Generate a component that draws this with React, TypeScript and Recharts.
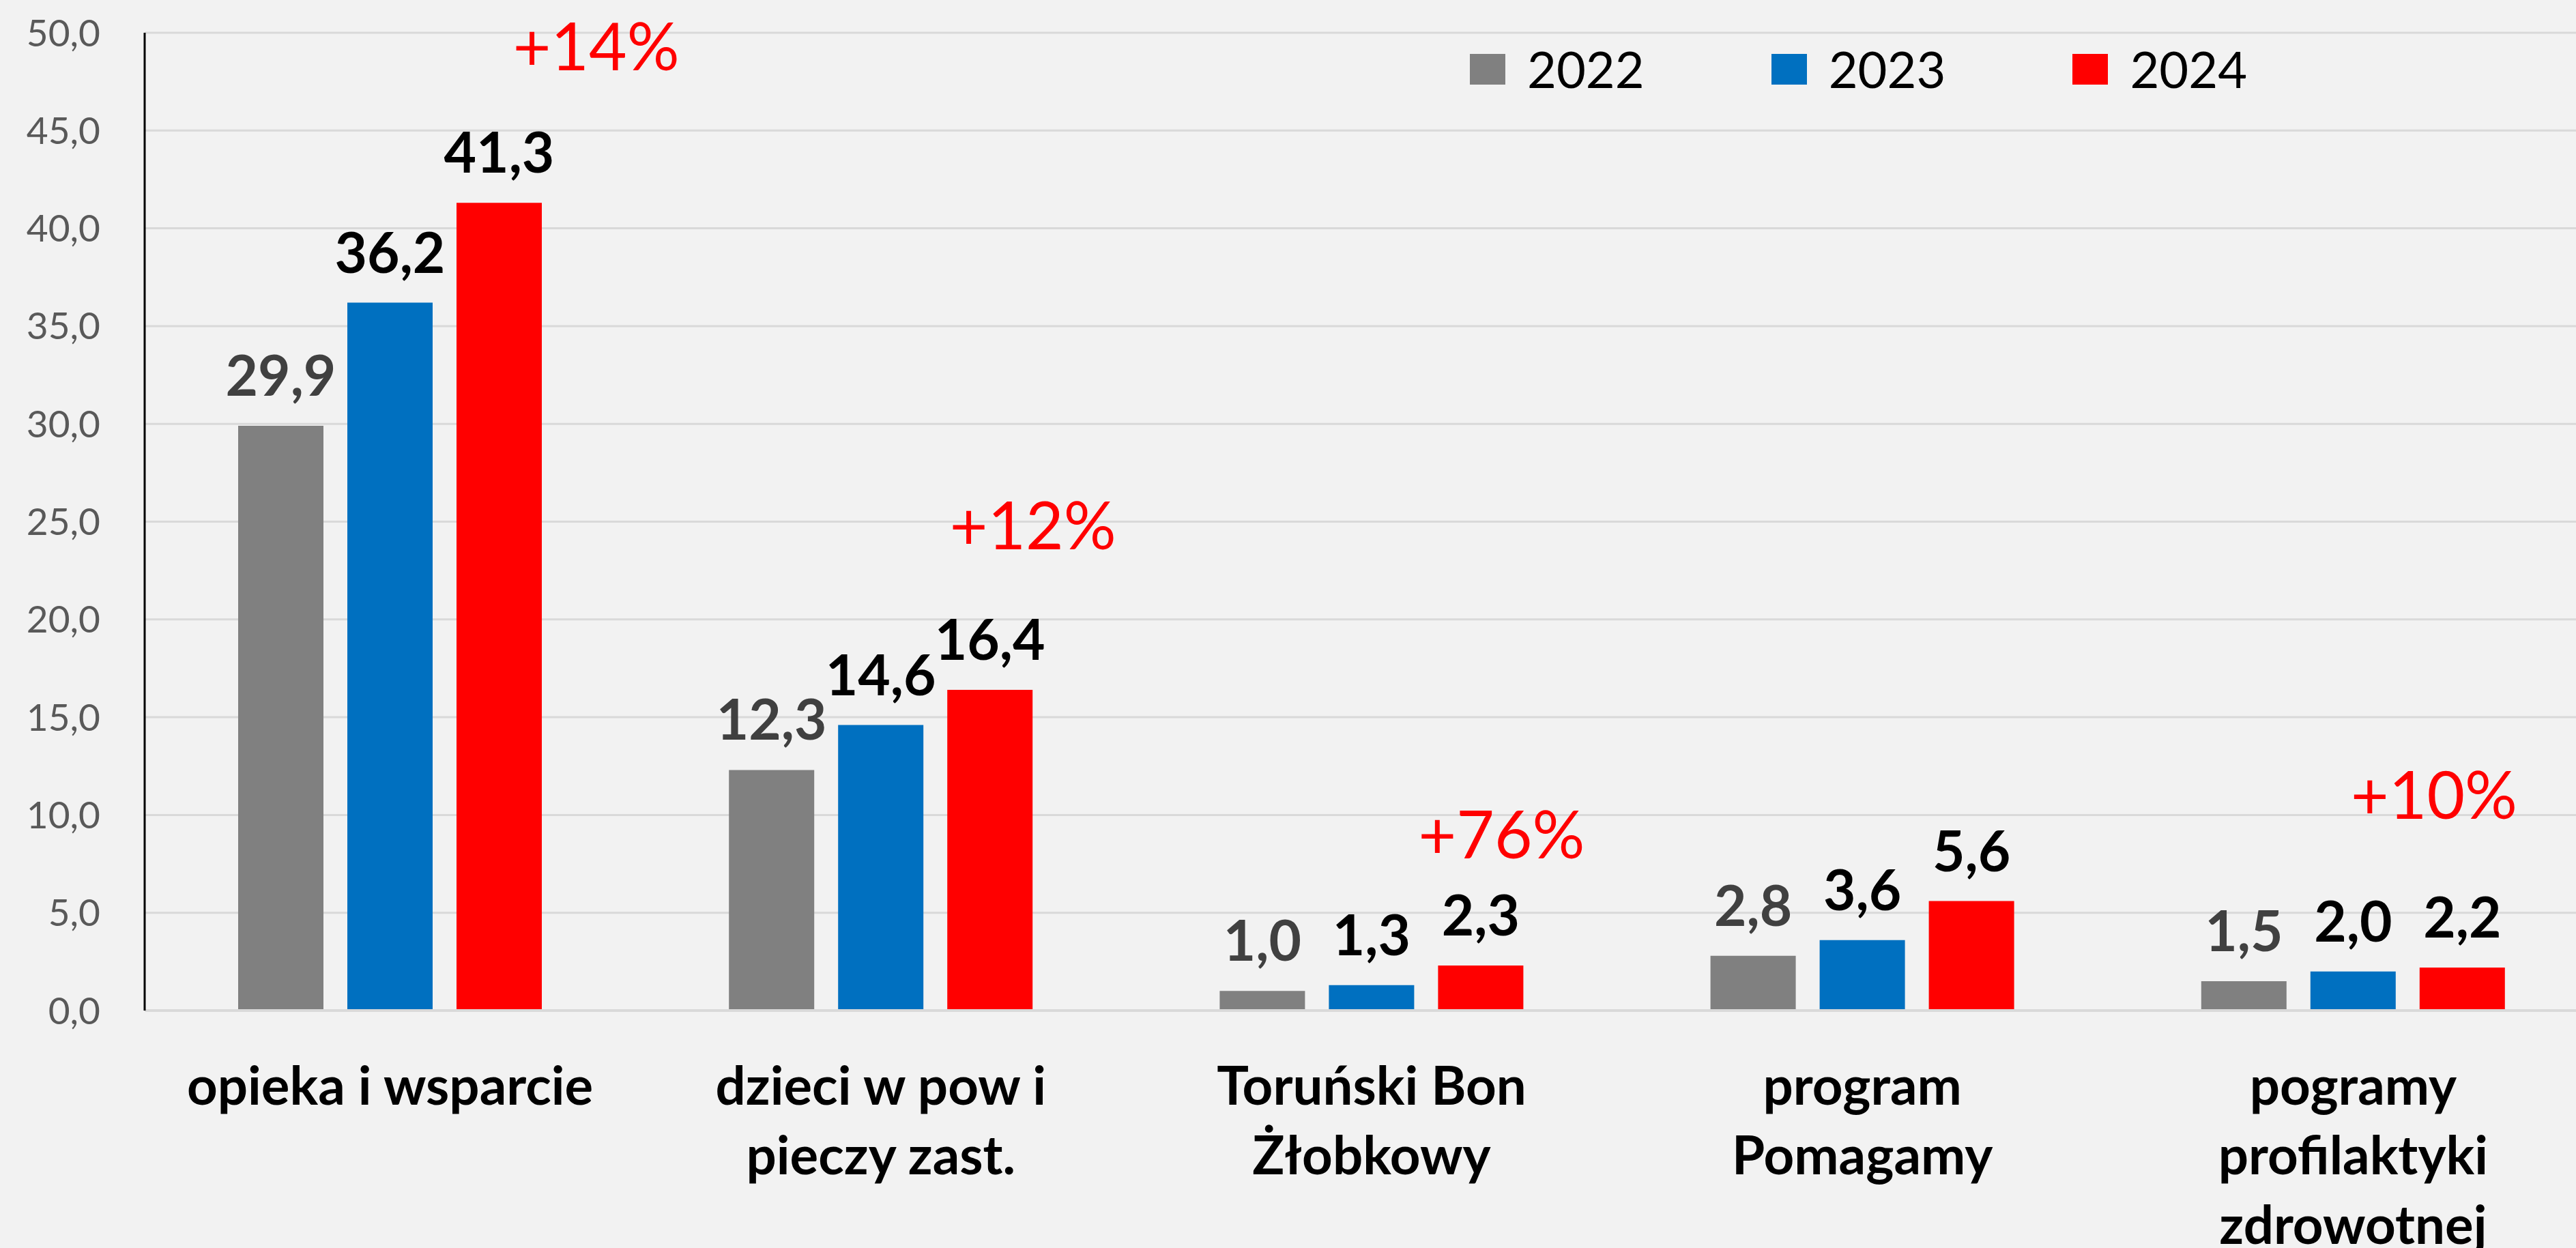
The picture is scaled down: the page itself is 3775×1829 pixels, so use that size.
import React from "react";
import {
  BarChart,
  Bar,
  XAxis,
  YAxis,
  CartesianGrid,
  Legend,
  LabelList,
  ReferenceDot,
} from "recharts";

const categories = [
  "opieka i wsparcie",
  "dzieci w pow i\npieczy zast.",
  "Toruński Bon\nŻłobkowy",
  "program\nPomagamy",
  "pogramy\nprofilaktyki\nzdrowotnej",
];
const v2022 = [29.9, 12.3, 1.0, 2.8, 1.5];
const v2023 = [36.2, 14.6, 1.3, 3.6, 2.0];
const v2024 = [41.3, 16.4, 2.3, 5.6, 2.2];
const yTicks = [0, 5, 10, 15, 20, 25, 30, 35, 40, 45, 50];

// growth notes: which category, how far right of its centre (in bands), at what value
const growthText = ["+14%", "+12%", "+76%", "+10%"];
const growthCat = [0, 1, 2, 4];
const growthShift = [0.42, 0.31, 0.265, 0.165];
const growthLevel = [49.4, 24.9, 9.1, 11.1];

const data = categories.map((name, i) => ({
  name,
  y2022: v2022[i],
  y2023: v2023[i],
  y2024: v2024[i],
}));

const W = 3775;
const H = 1829;
const Y_AXIS_W = 212;
// the plot runs a little past the right edge, as in the cropped original
const RIGHT = -33;
const BAND = (W - Y_AXIS_W - RIGHT) / categories.length;

const FONT = "Lato, 'Noto Sans', sans-serif";
const fmt = (v: number) => v.toFixed(1).replace(".", ",");

const CategoryTick = ({ x, y, payload }: any) => {
  const lines = String(payload.value).split("\n");
  return (
    <text
      x={x}
      y={y}
      textAnchor="middle"
      fill="#000"
      fontWeight={700}
      fontSize={78}
      fontFamily={FONT}
    >
      {lines.map((l, i) => (
        <tspan key={i} x={x} dy={i === 0 ? 138 : 102}>
          {l}
        </tspan>
      ))}
    </text>
  );
};

const renderLegend = ({ payload }: any) => (
  <div style={{ display: "flex", fontFamily: FONT, fontSize: 74, lineHeight: 1 }}>
    {(payload || []).map((e: any) => (
      <div
        key={e.value}
        style={{ display: "flex", alignItems: "center", marginRight: 186 }}
      >
        <span
          style={{
            display: "inline-block",
            width: 52,
            height: 45,
            background: e.color,
            marginRight: 32,
          }}
        />
        <span style={{ color: "#000" }}>{e.value}</span>
      </div>
    ))}
  </div>
);

export default function App() {
  return (
    <div
      style={{
        position: "absolute",
        top: 0,
        left: 0,
        width: W,
        height: H,
        background: "#F2F2F2",
        overflow: "hidden",
      }}
    >
      <BarChart
        width={W}
        height={H}
        data={data}
        margin={{ top: 48, right: RIGHT, bottom: 0, left: 0 }}
        barCategoryGap={137}
        barGap={35}
        style={{ fontFamily: FONT }}
      >
        <CartesianGrid vertical={false} stroke="#D9D9D9" strokeWidth={3} />
        <XAxis
          dataKey="name"
          height={348}
          interval={0}
          tickLine={false}
          tickSize={0}
          tickMargin={0}
          axisLine={{ stroke: "#D9D9D9", strokeWidth: 4 }}
          tick={<CategoryTick />}
        />
        <YAxis
          width={Y_AXIS_W}
          domain={[0, 50]}
          ticks={yTicks}
          tickFormatter={fmt}
          tickLine={false}
          tickSize={0}
          tickMargin={65}
          axisLine={{ stroke: "#000", strokeWidth: 3 }}
          tick={{ fill: "#595959", fontSize: 55, fontFamily: FONT }}
        />
        <Legend
          layout="horizontal"
          verticalAlign="middle"
          align="center"
          content={renderLegend}
          wrapperStyle={{ top: 64, left: 2154, width: "auto" }}
        />
        <Bar dataKey="y2022" name="2022" fill="#808080" isAnimationActive={false}>
          <LabelList
            dataKey="y2022"
            position="top"
            offset={44}
            formatter={fmt}
            fill="#404040"
            fontSize={82}
            fontWeight={700}
            fontFamily={FONT}
          />
        </Bar>
        <Bar dataKey="y2023" name="2023" fill="#0070C0" isAnimationActive={false}>
          <LabelList
            dataKey="y2023"
            position="top"
            offset={44}
            formatter={fmt}
            fill="#000"
            fontSize={82}
            fontWeight={700}
            fontFamily={FONT}
          />
        </Bar>
        <Bar dataKey="y2024" name="2024" fill="#FF0000" isAnimationActive={false}>
          <LabelList
            dataKey="y2024"
            position="top"
            offset={44}
            formatter={fmt}
            fill="#000"
            fontSize={82}
            fontWeight={700}
            fontFamily={FONT}
          />
        </Bar>
        {growthText.map((t, i) => (
          <ReferenceDot
            key={t}
            x={categories[growthCat[i]]}
            y={growthLevel[i]}
            r={0}
            shape={(p: any) => (
              <text
                x={p.cx + growthShift[i] * BAND}
                y={p.cy}
                textAnchor="middle"
                dominantBaseline="central"
                fill="#FF0000"
                fontSize={96}
                fontFamily={FONT}
              >
                {t}
              </text>
            )}
          />
        ))}
      </BarChart>
    </div>
  );
}
